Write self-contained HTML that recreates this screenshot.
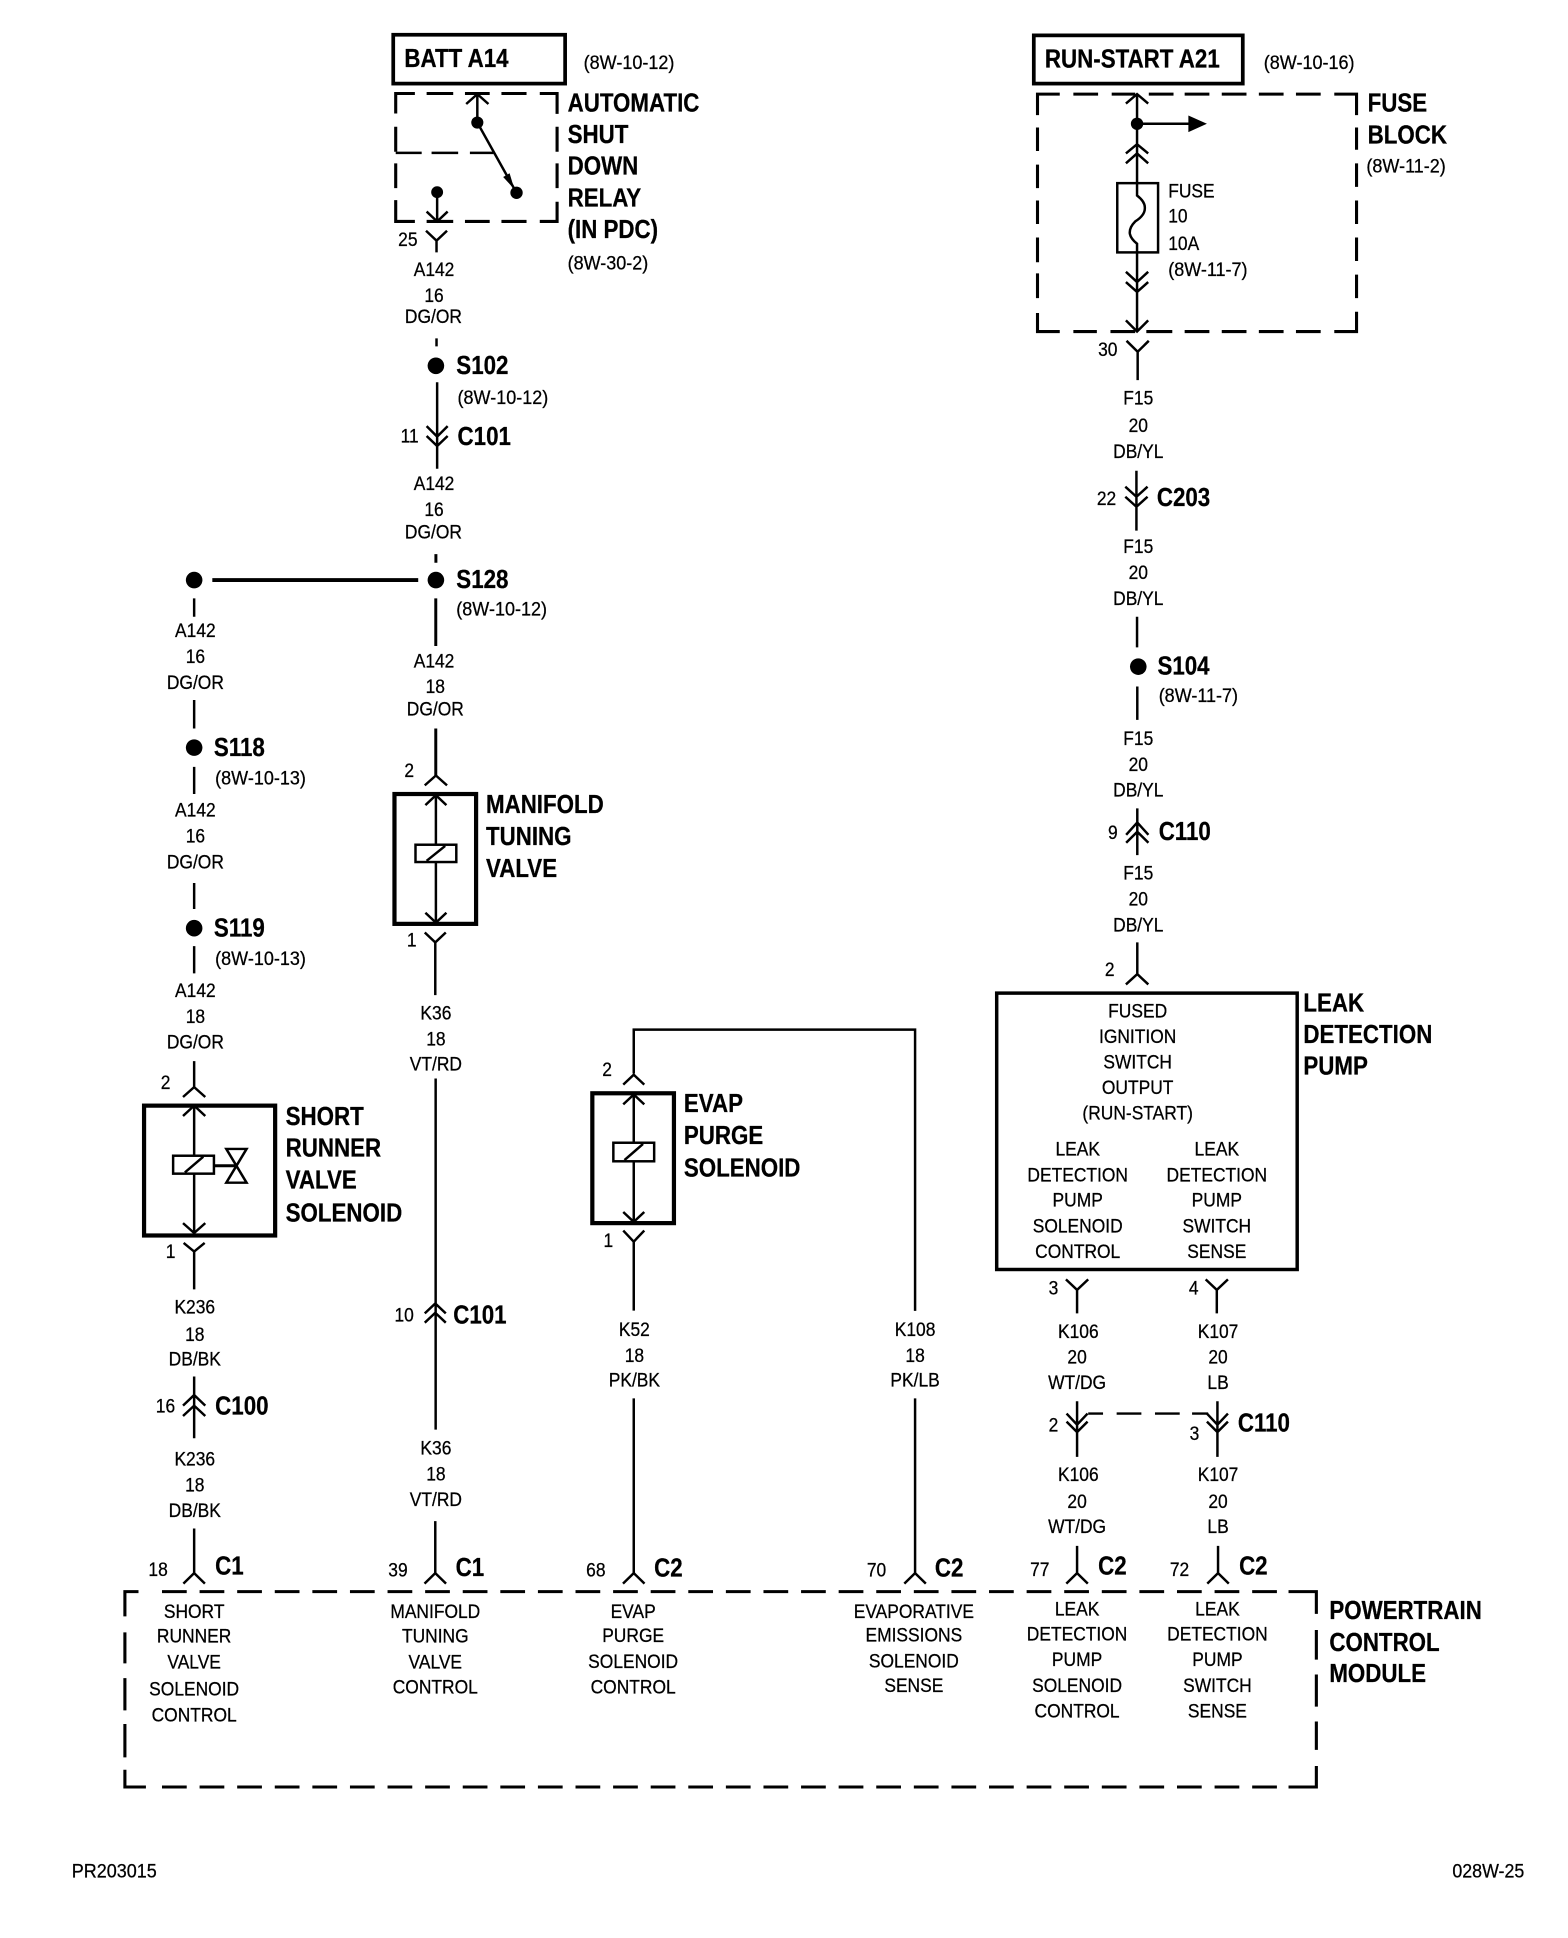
<!DOCTYPE html>
<html>
<head>
<meta charset="utf-8">
<style>
html,body{margin:0;padding:0;background:#fff;}
svg{display:block;}
text{font-family:"Liberation Sans",sans-serif;fill:#000;stroke:#000;stroke-width:.22;}
.r{font-size:16px;text-anchor:middle;}
.l{font-size:16px;text-anchor:start;}
.b{font-size:21px;font-weight:bold;text-anchor:start;}
.w{fill:none;stroke:#000;stroke-width:2;}
.t{fill:none;stroke:#000;stroke-width:3;}
.d{fill:none;stroke:#000;stroke-width:2.5;}
.f{fill:#000;stroke:none;}
</style>
</head>
<body>
<svg xmlns="http://www.w3.org/2000/svg" width="1568" height="1938" viewBox="0 0 1268 1567">
<rect width="1268" height="1567" fill="#fff"/>

<!-- Boxes -->
<rect class="t" x="318" y="28" width="139" height="39.500"/>
<rect class="t" x="836" y="28.500" width="169" height="39"/>
<rect class="t" x="319" y="642" width="66" height="105" style="stroke-width:3.400"/>
<rect class="t" x="116.500" y="894" width="106" height="105" style="stroke-width:3.400"/>
<rect class="t" x="479" y="884" width="66" height="105" style="stroke-width:3.400"/>
<rect class="t" x="806" y="803" width="243" height="223.500" style="stroke-width:2.800"/>

<!-- Dashed: relay -->
<path class="d" d="M335.500 75.500H320V91.700M345 75.500H366.500M376 75.500H396M405.500 75.500H425.800M436.500 75.500H450.500V92M320 102.400V122.600M320 132V152M320 161.700V179H335.500M345 179H366.500M376 179H396M405.500 179H425.800M436.500 179H450.500V163M450.500 102.400V122.600M450.500 132V152"/>
<path class="w" d="M320 123.500H341M349 123.500H370.500M380 123.500H399"/>
<!-- Dashed: fuse block -->
<path class="d" d="M857 76H839V93M868 76H888M899 76H918M929 76H949M958 76H978M988 76H1008M1018 76H1038M1048 76H1068M1079 76H1097V93M839 103V122M839 133V152M839 162V181M839 192V212M839 221V241M839 253V268H857M868 268H887M898 268H918M927 268H948M958 268H978M988 268H1008M1018 268H1038M1048 268H1068M1079 268H1097V252M1097 103V121M1097 132V151M1097 162V181M1097 192V211M1097 222V241"/>
<!-- Dashed: PCM -->
<path class="d" d="M112 1287H101V1307M101 1320V1345M101 1357V1383M101 1394V1421M101 1431V1445H118"/>
<path class="d" d="M131 1287H1042" stroke-dasharray="20 10.400"/>
<path class="d" d="M1042 1287H1064.500V1305M1064.500 1318V1342M1064.500 1354V1380M1064.500 1392V1415M1064.500 1428V1445H1042"/>
<path class="d" d="M131 1445H1042" stroke-dasharray="20 10.400"/>

<!-- Relay internals -->
<path class="w" d="M386 76V99L417.700 155.800M353.500 155V179M345 171L353.500 179L362 171M377 84L386 76L395 84"/>
<path class="f" d="M416 153L406.900 143L412.100 140Z"/>
<circle class="f" cx="386" cy="99" r="4.900"/>
<circle class="f" cx="417.700" cy="155.800" r="5"/>
<circle class="f" cx="353.500" cy="155.300" r="4.800"/>
<!-- Y 25 and wires -->
<path class="w" d="M344.500 186.500L353 194.500L361.500 186.500M353 194.500V204"/>
<path class="w" d="M353 273.500V280M353.500 309V379M345 344.500L353.500 353L362 344.500M345 352.500L353.500 360.600L362 352.500"/>
<circle class="f" cx="352.500" cy="295.700" r="6.700"/>
<path class="w" style="stroke-width:2.400" d="M352.500 448V455M352.400 483.800V522.300M352.400 589V628"/>
<path class="w" d="M343.500 635L352.500 627L361.500 635"/>
<circle class="f" cx="352.500" cy="469" r="6.700"/>
<path class="t" d="M171.700 469H338.200" style="stroke-width:3.100"/>
<circle class="f" cx="157" cy="469" r="6.700"/>

<!-- Left ticks and dots -->
<path class="w" d="M157 483.800V498.600M157 566V589M157 620V642M157 714V735M157 765V787M157 858V879M148 887L157 879L166 887"/>
<circle class="f" cx="157" cy="604.500" r="6.700"/>
<circle class="f" cx="157" cy="750.500" r="6.700"/>

<!-- Short runner internals -->
<path class="w" d="M157 894V934.500M157 949V998M148 902.400L157 894L166 902.400M148 989L157 997L166 989"/>
<rect class="w" x="140" y="934.500" width="33" height="14.500"/>
<path class="w" d="M149.500 948L164.400 935.300M183 929H199.400L183 956.300H199.400Z"/>
<path class="w" style="stroke-width:2.400" d="M173 942.600H191"/>
<path class="w" d="M148.500 1005L157 1012L165.500 1005M157 1012V1042.600M157 1113V1163M148 1136.600L157 1128L166 1136.600M148 1145L157 1136.600L166 1145M157 1236V1272M148.300 1280.500L157 1272L165.700 1280.500"/>

<!-- Manifold internals -->
<path class="w" d="M352.500 642V683M352.500 697V746M344 651L352.500 643L361 651M344 738L352.500 746L361 738"/>
<rect class="w" x="336" y="683" width="33" height="14"/>
<path class="w" d="M345 696L360 684"/>
<path class="w" d="M343.500 754L352 762L360.500 754M352 762V804.600M352.300 872V1156M343.500 1062L352 1054L360.500 1062M343.500 1069.500L352 1061.500L360.500 1069.500M352 1230V1272M343.300 1280.500L352 1272L360.700 1280.500"/>

<!-- Evap internals -->
<path class="w" d="M740 1060V832.500H512.500V868M504 877L512.500 869L521 877M512.500 884V924M512.500 939V988M504 893L512.500 885L521 893M504 980L512.500 988L521 980"/>
<rect class="w" x="496" y="924" width="33" height="15"/>
<path class="w" d="M505 938L520 925"/>
<path class="w" d="M504 995L512.500 1004L521 995M512.500 1004V1059.800M512.500 1130.700V1272M503.800 1280.500L512.500 1272L521.200 1280.500M740 1130.700V1272M731.300 1280.500L740 1272L748.700 1280.500"/>

<!-- Fuse internals -->
<path class="w" d="M919.500 76V148M910.500 83.600L919.500 76L928.500 83.600M910.500 124L919.500 116.500L928.500 124M910.500 132L919.500 124L928.500 132"/>
<circle class="f" cx="919.500" cy="100" r="5"/>
<path class="w" d="M919.500 100H962"/>
<path class="f" d="M961 93.300L976 100L961 106.700Z"/>
<rect class="w" x="903.500" y="148" width="33" height="56"/>
<path class="w" d="M919.500 148V158Q926 163 925.800 168Q926 174 918 179Q913 184 913.700 189Q914.500 193 919.500 197V268M910.500 219.700L919.500 228L928.500 219.700M910.500 228L919.500 236L928.500 228M910.500 259L919.500 268L928.500 259"/>
<path class="w" d="M911 275.500L920 284.400L929 275.500M920 284.400V307.300"/>
<path class="w" d="M919 380.600V429M910 393.500L919 401.600L928 393.500M910 401.600L919 409.700L928 401.600M919.500 498.600V523.400M919.700 555V582M919.700 653.600V691.400M910.700 675L919.700 665L928.700 675M910.700 681.400L919.700 672.500L928.700 681.400M919.700 762V787M910.500 796L919.700 787.600L928.600 796"/>
<circle class="f" cx="920.500" cy="539" r="6.700"/>

<!-- Pump lower -->
<path class="w" d="M862 1034.500L871 1043L880 1034.500M871 1043V1062M975 1034.500L984 1043L993 1034.500M984 1043V1062"/>
<path class="w" d="M871 1133V1178M862.500 1143L871 1152L879.500 1143M862.500 1149.500L871 1158L879.500 1149.500M984.500 1133V1178M976 1143L984.500 1152L993 1143M976 1149.500L984.500 1158L993 1149.500"/>
<path class="d" style="stroke-width:2" d="M880 1143H892M903 1143H923M934 1143H954M964 1143H977"/>
<path class="w" d="M871 1250V1272M862.300 1280.500L871 1272L879.700 1280.500M985 1250V1272M976.300 1280.500L985 1272L993.700 1280.500"/>

<g transform="translate(0 -.8)">
<!-- Bold labels -->
<text class="b" transform="translate(327 55) scale(.86 1)">BATT A14</text>
<text class="b" transform="translate(845 55.300) scale(.86 1)">RUN-START A21</text>
<text class="b" transform="translate(459 91) scale(.86 1)">AUTOMATIC</text>
<text class="b" transform="translate(459 116.500) scale(.86 1)">SHUT</text>
<text class="b" transform="translate(459 142) scale(.86 1)">DOWN</text>
<text class="b" transform="translate(459 167.500) scale(.86 1)">RELAY</text>
<text class="b" transform="translate(459 193) scale(.86 1)">(IN PDC)</text>
<text class="b" transform="translate(369 303) scale(.86 1)">S102</text>
<text class="b" transform="translate(370 360.500) scale(.86 1)">C101</text>
<text class="b" transform="translate(369 476) scale(.86 1)">S128</text>
<text class="b" transform="translate(173 612) scale(.86 1)">S118</text>
<text class="b" transform="translate(173 758) scale(.86 1)">S119</text>
<text class="b" transform="translate(393 658) scale(.86 1)">MANIFOLD</text>
<text class="b" transform="translate(393 684) scale(.86 1)">TUNING</text>
<text class="b" transform="translate(393 710) scale(.86 1)">VALVE</text>
<text class="b" transform="translate(231 910.500) scale(.86 1)">SHORT</text>
<text class="b" transform="translate(231 936) scale(.86 1)">RUNNER</text>
<text class="b" transform="translate(231 962) scale(.86 1)">VALVE</text>
<text class="b" transform="translate(231 988.400) scale(.86 1)">SOLENOID</text>
<text class="b" transform="translate(553 900) scale(.86 1)">EVAP</text>
<text class="b" transform="translate(553 926) scale(.86 1)">PURGE</text>
<text class="b" transform="translate(553 952) scale(.86 1)">SOLENOID</text>
<text class="b" transform="translate(366.500 1071) scale(.86 1)">C101</text>
<text class="b" transform="translate(174 1144.500) scale(.86 1)">C100</text>
<text class="b" transform="translate(174 1274) scale(.86 1)">C1</text>
<text class="b" transform="translate(368.500 1275) scale(.86 1)">C1</text>
<text class="b" transform="translate(529 1275.500) scale(.86 1)">C2</text>
<text class="b" transform="translate(756 1275.500) scale(.86 1)">C2</text>
<text class="b" transform="translate(888 1274) scale(.86 1)">C2</text>
<text class="b" transform="translate(1002 1274) scale(.86 1)">C2</text>
<text class="b" transform="translate(1106 91) scale(.86 1)">FUSE</text>
<text class="b" transform="translate(1106 116.700) scale(.86 1)">BLOCK</text>
<text class="b" transform="translate(935.500 410) scale(.86 1)">C203</text>
<text class="b" transform="translate(936 546) scale(.86 1)">S104</text>
<text class="b" transform="translate(937 680) scale(.86 1)">C110</text>
<text class="b" transform="translate(1054 818.600) scale(.86 1)">LEAK</text>
<text class="b" transform="translate(1054 844.200) scale(.86 1)">DETECTION</text>
<text class="b" transform="translate(1054 869.800) scale(.86 1)">PUMP</text>
<text class="b" transform="translate(1001 1158.500) scale(.86 1)">C110</text>
<text class="b" transform="translate(1075 1310) scale(.86 1)">POWERTRAIN</text>
<text class="b" transform="translate(1075 1336) scale(.86 1)">CONTROL</text>
<text class="b" transform="translate(1075 1361) scale(.86 1)">MODULE</text>

<!-- References -->
<text class="l" transform="translate(472 56.500) scale(.91 1)">(8W-10-12)</text>
<text class="l" transform="translate(459 218.500) scale(.91 1)">(8W-30-2)</text>
<text class="l" transform="translate(370 327.500) scale(.91 1)">(8W-10-12)</text>
<text class="l" transform="translate(369 498.500) scale(.91 1)">(8W-10-12)</text>
<text class="l" transform="translate(174 635) scale(.91 1)">(8W-10-13)</text>
<text class="l" transform="translate(174 781) scale(.91 1)">(8W-10-13)</text>
<text class="l" transform="translate(1022 56.500) scale(.91 1)">(8W-10-16)</text>
<text class="l" transform="translate(1105 140) scale(.91 1)">(8W-11-2)</text>
<text class="l" transform="translate(944.700 223.700) scale(.91 1)">(8W-11-7)</text>
<text class="l" transform="translate(937 568.500) scale(.91 1)">(8W-11-7)</text>
<text class="l" transform="translate(58 1519) scale(.91 1)">PR203015</text>
<text class="l" transform="translate(1174.500 1519) scale(.9 1)">028W-25</text>
<text class="l" transform="translate(944.700 160.400) scale(.88 1)">FUSE</text>
<text class="l" transform="translate(944.700 180.600) scale(.88 1)">10</text>
<text class="l" transform="translate(944.700 202.700) scale(.88 1)">10A</text>

<!-- Pin numbers -->
<text class="l" transform="translate(322 199.500) scale(.88 1)">25</text>
<text class="l" transform="translate(324 358.500) scale(.88 1)">11</text>
<text class="l" transform="translate(327 629) scale(.88 1)">2</text>
<text class="l" transform="translate(329 766) scale(.88 1)">1</text>
<text class="l" transform="translate(130 881.500) scale(.88 1)">2</text>
<text class="l" transform="translate(134 1018) scale(.88 1)">1</text>
<text class="l" transform="translate(487 871) scale(.88 1)">2</text>
<text class="l" transform="translate(488 1009) scale(.88 1)">1</text>
<text class="l" transform="translate(319 1069.500) scale(.88 1)">10</text>
<text class="l" transform="translate(126 1143) scale(.88 1)">16</text>
<text class="l" transform="translate(120 1275) scale(.88 1)">18</text>
<text class="l" transform="translate(314 1275.500) scale(.88 1)">39</text>
<text class="l" transform="translate(474 1275.500) scale(.88 1)">68</text>
<text class="l" transform="translate(701 1275.500) scale(.88 1)">70</text>
<text class="l" transform="translate(833 1275) scale(.88 1)">77</text>
<text class="l" transform="translate(946 1275) scale(.88 1)">72</text>
<text class="l" transform="translate(888 288.400) scale(.88 1)">30</text>
<text class="l" transform="translate(887 409) scale(.88 1)">22</text>
<text class="l" transform="translate(896 679) scale(.88 1)">9</text>
<text class="l" transform="translate(893.500 790) scale(.88 1)">2</text>
<text class="l" transform="translate(848 1047.700) scale(.88 1)">3</text>
<text class="l" transform="translate(961.400 1047.700) scale(.88 1)">4</text>
<text class="l" transform="translate(848 1158.500) scale(.88 1)">2</text>
<text class="l" transform="translate(962 1165) scale(.88 1)">3</text>

<!-- Wire labels -->
<text class="r" transform="translate(351 223.700) scale(.88 1)">A142</text>
<text class="r" transform="translate(351 245) scale(.88 1)">16</text>
<text class="r" transform="translate(350.500 262) scale(.88 1)">DG/OR</text>
<text class="r" transform="translate(351 397) scale(.88 1)">A142</text>
<text class="r" transform="translate(351 418) scale(.88 1)">16</text>
<text class="r" transform="translate(350.500 436) scale(.88 1)">DG/OR</text>
<text class="r" transform="translate(351 540.500) scale(.88 1)">A142</text>
<text class="r" transform="translate(352 561) scale(.88 1)">18</text>
<text class="r" transform="translate(352 579.500) scale(.88 1)">DG/OR</text>
<text class="r" transform="translate(158 516) scale(.88 1)">A142</text>
<text class="r" transform="translate(158 537) scale(.88 1)">16</text>
<text class="r" transform="translate(158 558) scale(.88 1)">DG/OR</text>
<text class="r" transform="translate(158 661) scale(.88 1)">A142</text>
<text class="r" transform="translate(158 682) scale(.88 1)">16</text>
<text class="r" transform="translate(158 703) scale(.88 1)">DG/OR</text>
<text class="r" transform="translate(158 807) scale(.88 1)">A142</text>
<text class="r" transform="translate(158 828) scale(.88 1)">18</text>
<text class="r" transform="translate(158 848.500) scale(.88 1)">DG/OR</text>
<text class="r" transform="translate(352.500 825) scale(.88 1)">K36</text>
<text class="r" transform="translate(352.500 846) scale(.88 1)">18</text>
<text class="r" transform="translate(352.500 866.500) scale(.88 1)">VT/RD</text>
<text class="r" transform="translate(352.500 1177) scale(.88 1)">K36</text>
<text class="r" transform="translate(352.500 1198) scale(.88 1)">18</text>
<text class="r" transform="translate(352.500 1218.500) scale(.88 1)">VT/RD</text>
<text class="r" transform="translate(157.500 1063) scale(.88 1)">K236</text>
<text class="r" transform="translate(157.500 1085) scale(.88 1)">18</text>
<text class="r" transform="translate(157.500 1105) scale(.88 1)">DB/BK</text>
<text class="r" transform="translate(157.500 1186) scale(.88 1)">K236</text>
<text class="r" transform="translate(157.500 1207) scale(.88 1)">18</text>
<text class="r" transform="translate(157.500 1227.500) scale(.88 1)">DB/BK</text>
<text class="r" transform="translate(513 1081) scale(.88 1)">K52</text>
<text class="r" transform="translate(513 1102) scale(.88 1)">18</text>
<text class="r" transform="translate(513 1122) scale(.88 1)">PK/BK</text>
<text class="r" transform="translate(740 1081) scale(.88 1)">K108</text>
<text class="r" transform="translate(740 1102) scale(.88 1)">18</text>
<text class="r" transform="translate(740 1122) scale(.88 1)">PK/LB</text>
<text class="r" transform="translate(920.500 328) scale(.88 1)">F15</text>
<text class="r" transform="translate(920.500 350) scale(.88 1)">20</text>
<text class="r" transform="translate(920.500 371) scale(.88 1)">DB/YL</text>
<text class="r" transform="translate(920.500 448) scale(.88 1)">F15</text>
<text class="r" transform="translate(920.500 469) scale(.88 1)">20</text>
<text class="r" transform="translate(920.500 490) scale(.88 1)">DB/YL</text>
<text class="r" transform="translate(920.500 603) scale(.88 1)">F15</text>
<text class="r" transform="translate(920.500 624) scale(.88 1)">20</text>
<text class="r" transform="translate(920.500 645) scale(.88 1)">DB/YL</text>
<text class="r" transform="translate(920.500 712) scale(.88 1)">F15</text>
<text class="r" transform="translate(920.500 733) scale(.88 1)">20</text>
<text class="r" transform="translate(920.500 754) scale(.88 1)">DB/YL</text>
<text class="r" transform="translate(872 1082.500) scale(.88 1)">K106</text>
<text class="r" transform="translate(871 1103.500) scale(.88 1)">20</text>
<text class="r" transform="translate(871 1124) scale(.88 1)">WT/DG</text>
<text class="r" transform="translate(985 1082.500) scale(.88 1)">K107</text>
<text class="r" transform="translate(985 1103.500) scale(.88 1)">20</text>
<text class="r" transform="translate(985 1124) scale(.88 1)">LB</text>
<text class="r" transform="translate(872 1198.500) scale(.88 1)">K106</text>
<text class="r" transform="translate(871 1220) scale(.88 1)">20</text>
<text class="r" transform="translate(871 1240.500) scale(.88 1)">WT/DG</text>
<text class="r" transform="translate(985 1198.500) scale(.88 1)">K107</text>
<text class="r" transform="translate(985 1220) scale(.88 1)">20</text>
<text class="r" transform="translate(985 1240.500) scale(.88 1)">LB</text>

<!-- Pump internal text -->
<text class="r" transform="translate(920 823.400) scale(.88 1)">FUSED</text>
<text class="r" transform="translate(920 844) scale(.88 1)">IGNITION</text>
<text class="r" transform="translate(920 864.700) scale(.88 1)">SWITCH</text>
<text class="r" transform="translate(920 885.400) scale(.88 1)">OUTPUT</text>
<text class="r" transform="translate(920 906.200) scale(.88 1)">(RUN-START)</text>
<text class="r" transform="translate(871.500 935.300) scale(.88 1)">LEAK</text>
<text class="r" transform="translate(871.500 956) scale(.88 1)">DETECTION</text>
<text class="r" transform="translate(871.500 976.500) scale(.88 1)">PUMP</text>
<text class="r" transform="translate(871.500 997.300) scale(.88 1)">SOLENOID</text>
<text class="r" transform="translate(871.500 1018) scale(.88 1)">CONTROL</text>
<text class="r" transform="translate(984 935.300) scale(.88 1)">LEAK</text>
<text class="r" transform="translate(984 956) scale(.88 1)">DETECTION</text>
<text class="r" transform="translate(984 976.500) scale(.88 1)">PUMP</text>
<text class="r" transform="translate(984 997.300) scale(.88 1)">SWITCH</text>
<text class="r" transform="translate(984 1018) scale(.88 1)">SENSE</text>

<!-- PCM text -->
<text class="r" transform="translate(157 1309) scale(.88 1)">SHORT</text>
<text class="r" transform="translate(157 1329) scale(.88 1)">RUNNER</text>
<text class="r" transform="translate(157 1350) scale(.88 1)">VALVE</text>
<text class="r" transform="translate(157 1372) scale(.88 1)">SOLENOID</text>
<text class="r" transform="translate(157 1393) scale(.88 1)">CONTROL</text>
<text class="r" transform="translate(352 1309) scale(.88 1)">MANIFOLD</text>
<text class="r" transform="translate(352 1329) scale(.88 1)">TUNING</text>
<text class="r" transform="translate(352 1350) scale(.88 1)">VALVE</text>
<text class="r" transform="translate(352 1370) scale(.88 1)">CONTROL</text>
<text class="r" transform="translate(512 1309) scale(.88 1)">EVAP</text>
<text class="r" transform="translate(512 1328.500) scale(.88 1)">PURGE</text>
<text class="r" transform="translate(512 1349.500) scale(.88 1)">SOLENOID</text>
<text class="r" transform="translate(512 1370) scale(.88 1)">CONTROL</text>
<text class="r" transform="translate(739 1309) scale(.88 1)">EVAPORATIVE</text>
<text class="r" transform="translate(739 1328) scale(.88 1)">EMISSIONS</text>
<text class="r" transform="translate(739 1349) scale(.88 1)">SOLENOID</text>
<text class="r" transform="translate(739 1369) scale(.88 1)">SENSE</text>
<text class="r" transform="translate(871 1307) scale(.88 1)">LEAK</text>
<text class="r" transform="translate(871 1327.500) scale(.88 1)">DETECTION</text>
<text class="r" transform="translate(871 1348) scale(.88 1)">PUMP</text>
<text class="r" transform="translate(871 1369) scale(.88 1)">SOLENOID</text>
<text class="r" transform="translate(871 1389.500) scale(.88 1)">CONTROL</text>
<text class="r" transform="translate(984.500 1307) scale(.88 1)">LEAK</text>
<text class="r" transform="translate(984.500 1327.500) scale(.88 1)">DETECTION</text>
<text class="r" transform="translate(984.500 1348) scale(.88 1)">PUMP</text>
<text class="r" transform="translate(984.500 1369) scale(.88 1)">SWITCH</text>
<text class="r" transform="translate(984.500 1389.500) scale(.88 1)">SENSE</text>
</g>
</svg>
</body>
</html>
